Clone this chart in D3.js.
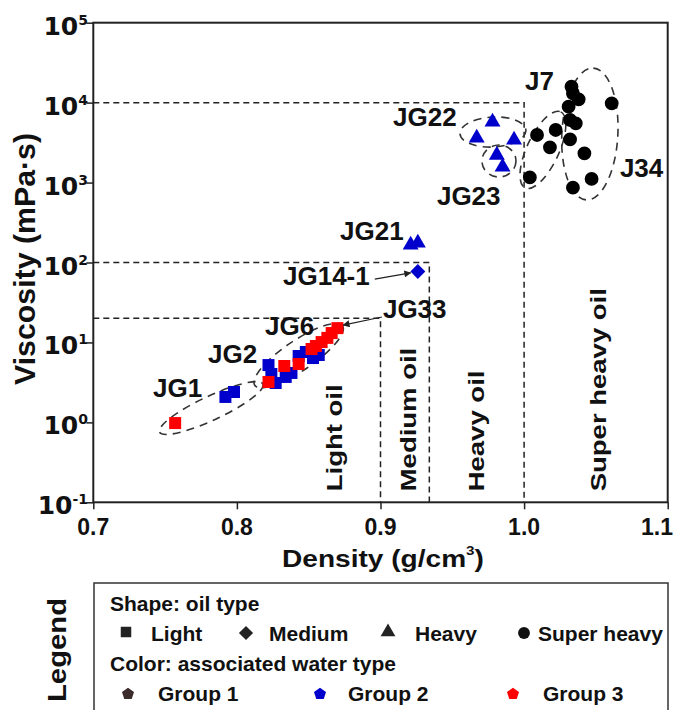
<!DOCTYPE html>
<html>
<head>
<meta charset="utf-8">
<script src="https://cdn.jsdelivr.net/npm/d3@7"></script>
<style>
  body { margin: 0; background: #fff; }
  text { font-family: "Liberation Sans", Arial, sans-serif; font-weight: bold; fill: #111; }
</style>
</head>
<body>
<script>
// density (g/cm3), viscosity (mPa.s)
const lightGroup2 = [[0.792, 2.08], [0.798, 2.40], [0.822, 5.21], [0.824, 4.03], [0.827, 3.11],
  [0.834, 3.70], [0.838, 4.15], [0.843, 6.76], [0.848, 7.59], [0.853, 6.38], [0.857, 6.96]];
const lightGroup3 = [[0.757, 0.98], [0.822, 3.20], [0.833, 5.07], [0.843, 5.37], [0.852, 8.28],
  [0.855, 9.02], [0.859, 10.1], [0.863, 11.4], [0.866, 13.1], [0.870, 15.1]];
const mediumGroup2 = [[0.926, 77]];
const heavyGroup2 = [[0.978, 5730], [0.967, 3610], [0.993, 3410], [0.981, 2210], [0.985, 1570],
  [0.921, 166], [0.926, 176]];
const superGroup1 = [[1.033, 15800], [1.034, 13100], [1.038, 11000], [1.031, 8900], [1.061, 9800],
  [1.032, 6070], [1.036, 5510], [1.022, 4550], [1.009, 3940], [1.032, 3470], [1.018, 2760],
  [1.042, 2320], [1.004, 1160], [1.047, 1110], [1.034, 863]];

// dashed class limits: density limit, viscosity limit
const limits = [[0.9, 20], [0.934, 100], [1.0, 10000]];
const classNames = ['Light oil', 'Medium oil', 'Heavy oil', 'Super heavy oil'];
const classPos = [0.873, 0.925, 0.972, 1.057];

const xTicks = [0.7, 0.8, 0.9, 1.0, 1.1];
const yTicks = [-1, 0, 1, 2, 3, 4, 5];

// sample labels [text, density, viscosity]
const labels = [['JG1', 0.7416, 2.08], ['JG2', 0.7799, 5.52], ['JG6', 0.8196, 12.4],
  ['JG33', 0.9017, 20.2], ['JG14-1', 0.8321, 52.4], ['JG21', 0.8718, 191],
  ['JG22', 0.9087, 5100], ['JG23', 0.9393, 525], ['J7', 1.0006, 14400], ['J34', 1.0667, 1175]];
// arrows [from, to]
const arrows = [[[0.896, 62.1], [0.921, 74.3]], [[0.901, 20.8], [0.874, 16.5]]];
// group ellipses [density, viscosity, rx, ry, angle]
const ellipses = [[0.7821, 1.51, 57, 12, -25], [0.843, 6.85, 53, 15, -34], [0.9783, 4290, 33, 15, -3],
  [0.9825, 1860, 17, 16, 0], [1.0131, 2560, 42, 16, -65], [1.0458, 4050, 66, 28, -87]];

const width = 675;
const height = 710;
const blue = '#0000cc';
const red = '#ff0000';

const x = d3.scaleLinear().domain([0.7, 1.1]).range([93.3, 667.7]);
const y = d3.scaleLog().domain([0.1, 1e5]).range([502.3, 22.7]);

const svg = d3.select('body').append('svg')
  .attr('width', width)
  .attr('height', height);

svg.append('rect').attr('width', width).attr('height', height).attr('fill', '#fff');

const defs = svg.append('defs');
defs.append('marker')
  .attr('id', 'arrow')
  .attr('viewBox', '0 0 10 10')
  .attr('refX', 9).attr('refY', 5)
  .attr('markerWidth', 9).attr('markerHeight', 7)
  .attr('markerUnits', 'userSpaceOnUse')
  .attr('orient', 'auto')
  .append('path').attr('d', 'M0,0L10,5L0,10z').attr('fill', '#222');

// dashed limit lines
const lim = svg.append('g')
  .attr('fill', 'none').attr('stroke', '#222')
  .attr('stroke-width', 1.5).attr('stroke-dasharray', '6,4');
limits.forEach(([d, v]) => {
  lim.append('path')
    .attr('d', `M${x(0.7)},${y(v)}H${x(d)}V${y(0.1)}`);
});

// ellipses
svg.append('g').selectAll('ellipse')
  .data(ellipses)
  .join('ellipse')
  .attr('transform', d => `translate(${x(d[0])},${y(d[1])}) rotate(${d[4]})`)
  .attr('rx', d => d[2]).attr('ry', d => d[3])
  .attr('fill', 'none').attr('stroke', '#333')
  .attr('stroke-width', 1.6).attr('stroke-dasharray', '8,6');

// markers
const sym = (type, size) => d3.symbol().type(type).size(size)();
function drawPoints(data, shape, color, size, rot) {
  svg.append('g').selectAll('path')
    .data(data)
    .join('path')
    .attr('d', sym(shape, size))
    .attr('transform', d => `translate(${x(d[0])},${y(d[1])})` + (rot ? ` rotate(${rot})` : ''))
    .attr('fill', color);
}
drawPoints(lightGroup2, d3.symbolSquare, blue, 144);
drawPoints(lightGroup3, d3.symbolSquare, red, 144);
drawPoints(mediumGroup2, d3.symbolSquare, blue, 112, 45);
drawPoints(heavyGroup2, d3.symbolTriangle, blue, 110);
drawPoints(superGroup1, d3.symbolCircle, '#000', 150);

// arrows
svg.append('g').selectAll('line')
  .data(arrows)
  .join('line')
  .attr('x1', d => x(d[0][0])).attr('y1', d => y(d[0][1]))
  .attr('x2', d => x(d[1][0])).attr('y2', d => y(d[1][1]))
  .attr('stroke', '#222').attr('stroke-width', 1.2)
  .attr('marker-end', 'url(#arrow)');

// sample labels
svg.append('g').selectAll('text')
  .data(labels)
  .join('text')
  .attr('x', d => x(d[1])).attr('y', d => y(d[2]))
  .attr('font-size', 26)
  .text(d => d[0]);

// oil class labels
svg.append('g').selectAll('text')
  .data(classNames)
  .join('text')
  .attr('transform', (d, i) => `translate(${x(classPos[i])},${y(0.1) - 11}) rotate(-90) scale(1.25,1)`)
  .attr('font-size', 22)
  .text(d => d);

// axes
const xAxis = svg.append('g').attr('transform', `translate(0,${y(0.1)})`);
xAxis.call(d3.axisBottom(x).tickValues(d3.range(0.7, 1.1001, 0.025)).tickSize(3).tickFormat(''));
xAxis.call(d3.axisBottom(x).tickValues(d3.range(0.75, 1.1, 0.1)).tickSize(5).tickFormat(''));
xAxis.call(d3.axisBottom(x).tickValues(xTicks).tickSize(7).tickFormat(''));
xAxis.selectAll('.domain').remove();
xAxis.selectAll('line').attr('stroke', '#222').attr('stroke-width', 1.5);

svg.append('g').selectAll('text')
  .data(xTicks)
  .join('text')
  .attr('x', d => Math.min(x(d), 657)).attr('y', y(0.1) + 33)
  .attr('text-anchor', 'middle')
  .attr('font-size', 23)
  .text(d => d.toFixed(1));

const minor = [];
yTicks.slice(0, -1).forEach(e => {
  for (let k = 2; k < 10; k++) minor.push(k * Math.pow(10, e));
});
const yAxis = svg.append('g').attr('transform', `translate(${x(0.7)},0)`);
yAxis.call(d3.axisLeft(y).tickValues(minor).tickSize(3.5).tickFormat(''));
yAxis.call(d3.axisLeft(y).tickValues(yTicks.map(e => Math.pow(10, e))).tickSize(7).tickFormat(''));
yAxis.selectAll('.domain').remove();
yAxis.selectAll('line').attr('stroke', '#222').attr('stroke-width', 1.5);

const yLab = svg.append('g').selectAll('text')
  .data(yTicks)
  .join('text')
  .attr('x', 88).attr('y', d => y(Math.pow(10, d)) + 12)
  .attr('text-anchor', 'end')
  .style('font-family', '"DejaVu Sans", sans-serif');
yLab.append('tspan').attr('font-size', 25).text('10');
yLab.append('tspan').attr('font-size', 14).attr('dy', -10).text(d => d);

// frame
svg.append('rect')
  .attr('x', x(0.7)).attr('y', y(1e5))
  .attr('width', x(1.1) - x(0.7)).attr('height', y(0.1) - y(1e5))
  .attr('fill', 'none').attr('stroke', '#222').attr('stroke-width', 2);

// axis titles
const xt = svg.append('text')
  .attr('transform', `translate(383,567) scale(1.17,1)`)
  .attr('text-anchor', 'middle')
  .attr('font-size', 24);
xt.append('tspan').text('Density (g/cm');
xt.append('tspan').attr('font-size', 13).attr('dy', -12).text('3');
xt.append('tspan').attr('dy', 12).text(')');

svg.append('text')
  .attr('transform', 'translate(35,259) rotate(-90)')
  .attr('text-anchor', 'middle')
  .attr('font-size', 29)
  .attr('textLength', 252)
  .attr('lengthAdjust', 'spacingAndGlyphs')
  .text('Viscosity (mPa\u00b7s)');

// legend
const pentagon = {
  draw(ctx, size) {
    const r = Math.sqrt(size / 2.378);
    for (let i = 0; i < 5; i++) {
      const a = -Math.PI / 2 + i * 2 * Math.PI / 5;
      if (i === 0) ctx.moveTo(r * Math.cos(a), r * Math.sin(a));
      else ctx.lineTo(r * Math.cos(a), r * Math.sin(a));
    }
    ctx.closePath();
  }
};

const lg = svg.append('g');
lg.append('rect')
  .attr('x', 94).attr('y', 583).attr('width', 574).attr('height', 200)
  .attr('fill', 'none').attr('stroke', '#333').attr('stroke-width', 1.5);
lg.append('text')
  .attr('transform', 'translate(66,650) rotate(-90)')
  .attr('text-anchor', 'middle')
  .attr('font-size', 26)
  .attr('textLength', 104)
  .attr('lengthAdjust', 'spacingAndGlyphs')
  .text('Legend');

const legendText = (tx, ty, s) => lg.append('text')
  .attr('x', tx).attr('y', ty).attr('font-size', 21).attr('fill', '#2a2a2a').text(s);
const legendSym = (sx, sy, type, size, color, rot) => lg.append('path')
  .attr('d', d3.symbol().type(type).size(size)())
  .attr('transform', `translate(${sx},${sy})` + (rot ? ` rotate(${rot})` : ''))
  .attr('fill', color);

legendText(110, 611, 'Shape: oil type');
legendSym(126, 632, d3.symbolSquare, 110, '#222');
legendText(151, 641, 'Light');
legendSym(246, 633, d3.symbolSquare, 100, '#222', 45);
legendText(269, 641, 'Medium');
legendSym(388, 632, d3.symbolTriangle, 95, '#222');
legendText(415, 641, 'Heavy');
legendSym(524, 633, d3.symbolCircle, 110, '#111');
legendText(538, 641, 'Super heavy');
legendText(110, 671, 'Color:  associated water type');
legendSym(128, 694, pentagon, 95, '#3b2b2b');
legendText(158, 701, 'Group 1');
legendSym(320, 694, pentagon, 95, blue);
legendText(348, 701, 'Group 2');
legendSym(513, 694, pentagon, 95, red);
legendText(543, 701, 'Group 3');
</script>
</body>
</html>
